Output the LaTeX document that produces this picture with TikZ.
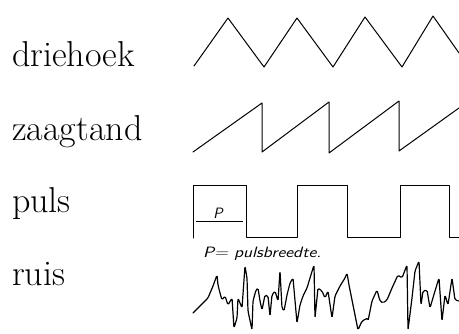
\documentclass[tikz,border=0pt]{standalone}
\usepackage{tikz}
\usetikzlibrary{positioning}
\tikzstyle{label} = [anchor=base west, inner sep=0pt, font=\fontsize{36}{40}\selectfont]
\tikzstyle{wave} = [line width=1pt, line join=round, line cap=round, black]
\tikzstyle{note} = [inner sep=0pt, font=\sffamily\itshape\fontsize{15}{18}\selectfont]

\begin{document}
\begin{tikzpicture}[x=1pt, y=-1pt]
    \useasboundingbox (0,0) rectangle (459,333);
    % Nodes
    \node (driehoek) [label] at (12,66) {driehoek};
    \node (zaagtand) [label] at (12,140) {zaagtand};
    \node (puls) [label] at (12,212) {puls};
    \node (ruis) [label] at (12,285) {ruis};
    \node (p) [note] at (218,213) {P};
    \node (breedte) [note, anchor=west, xscale=1.2] at (203,254) {P= pulsbreedte.};

    % Waves
    \draw [wave] (194,66) -- (228,18) -- (264,67) -- (297,18) -- (333,67)
        -- (365,17) -- (402,67) -- (433,16) -- (459,53);
    \draw [wave] (193,152) -- (262,103) -- (262,152) -- (329,102) -- (329,153)
        -- (399,101) -- (399,151) -- (459,108);
    \draw [wave] (193,238) -- (193,185) -- (246,185) -- (246,237) -- (297,237)
        -- (297,185) -- (347,185) -- (347,237) -- (400,237) -- (400,185)
        -- (449,185) -- (449,237) -- (459,237);
    \draw [line width=0.8pt] (196,221) -- (243,221);
    \draw [wave, line width=1.2pt, rounded corners=1.5pt]
        (193,313) -- (200,306) -- (208,298) -- (213,286) -- (217,275) -- (218,285)
        -- (220,293) -- (222,300) -- (225,296) -- (228,305) -- (232,298) -- (234,328)
        -- (237,318) -- (238,298) -- (242,308) -- (245,266) -- (247,278) -- (248,311)
        -- (252,330) -- (253,301) -- (256,290) -- (258,288) -- (260,301) -- (262,310)
        -- (265,295) -- (268,296) -- (270,316) -- (272,295) -- (275,291) -- (278,301)
        -- (280,271) -- (282,308) -- (284,311) -- (287,295) -- (290,283) -- (293,278)
        -- (297,323) -- (300,305) -- (303,296) -- (307,288) -- (310,278) -- (314,265)
        -- (315,318) -- (318,288) -- (322,291) -- (325,298) -- (328,291) -- (332,318)
        -- (335,296) -- (340,286) -- (345,278) -- (347,273) -- (349,285) -- (353,305)
        -- (358,330) -- (362,321) -- (368,318) -- (368,321) -- (372,301) -- (377,290)
        -- (380,301) -- (383,303) -- (387,300) -- (392,288) -- (398,275) -- (402,278)
        -- (407,265) -- (408,330) -- (412,298) -- (415,271) -- (419,261) -- (421,305)
        -- (423,291) -- (427,290) -- (430,308) -- (435,291) -- (439,278) -- (442,321)
        -- (445,295) -- (448,305) -- (452,278) -- (455,300) -- (459,301);
\end{tikzpicture}
\end{document}
